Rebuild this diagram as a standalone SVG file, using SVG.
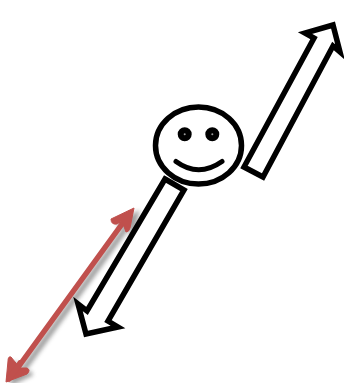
<svg xmlns="http://www.w3.org/2000/svg" width="344" height="383" viewBox="0 0 344 383">
<defs>
<style>
.o{fill:#fff;stroke:#000;stroke-width:5.5;stroke-linejoin:miter;stroke-miterlimit:8}
.f{fill:none;stroke:#000;stroke-width:5}
.r{fill:none;stroke:#C0504D;stroke-width:5.5;stroke-linecap:round}
</style>
<filter id="s" x="-20%" y="-20%" width="140%" height="140%"><feGaussianBlur stdDeviation="2"/></filter>
</defs>
<g id="connectors">
<g id="shadow" filter="url(#s)" opacity=".7" transform="translate(4,4)">
<path d="M11,377 L130,213" fill="none" stroke="#777" stroke-width="6"/>
<path d="M114,222 L132,211 L128,232 M12,358 L9,378 L28,369" fill="none" stroke="#777" stroke-width="5"/>
</g>
<path class="r" d="M11,377 L130,213"/>
<path d="M111,219 Q111,225 117,224 L122,221 L126,232 Q129,232 130,228 L134,208 Z" fill="#C0504D" stroke="#C0504D" stroke-width="1"/>
<path d="M11,357 Q8,356 8,361 L6,382 L27,374 Q31,370 27,368 L20,368 Z" fill="#C0504D" stroke="#C0504D" stroke-width="1"/>
<path class="r" d="M9,379 L20,363"/>
</g>
<g id="arrow-up">
<path class="o" d="M244,167 L314,38 L305,33 L333,25 L340,52 L333,46 L263,177 Z"/>
</g>
<g id="arrow-down">
<path class="o" d="M165,179 L184,190 L108,321 L118,327 L86,334 L78,304 L87,311 Z"/>
</g>
<g id="face">
<ellipse cx="198.5" cy="145.5" rx="43" ry="38.5" fill="#fff" stroke="#000" stroke-width="5.5"/>
<circle cx="184.7" cy="134.3" r="4" fill="#999" stroke="#000" stroke-width="6"/>
<circle cx="212.3" cy="134.3" r="4" fill="#999" stroke="#000" stroke-width="6"/>
<path class="f" d="M176,161.5 Q198.5,178 222,161.5" stroke-linecap="round"/>
</g>
</svg>
